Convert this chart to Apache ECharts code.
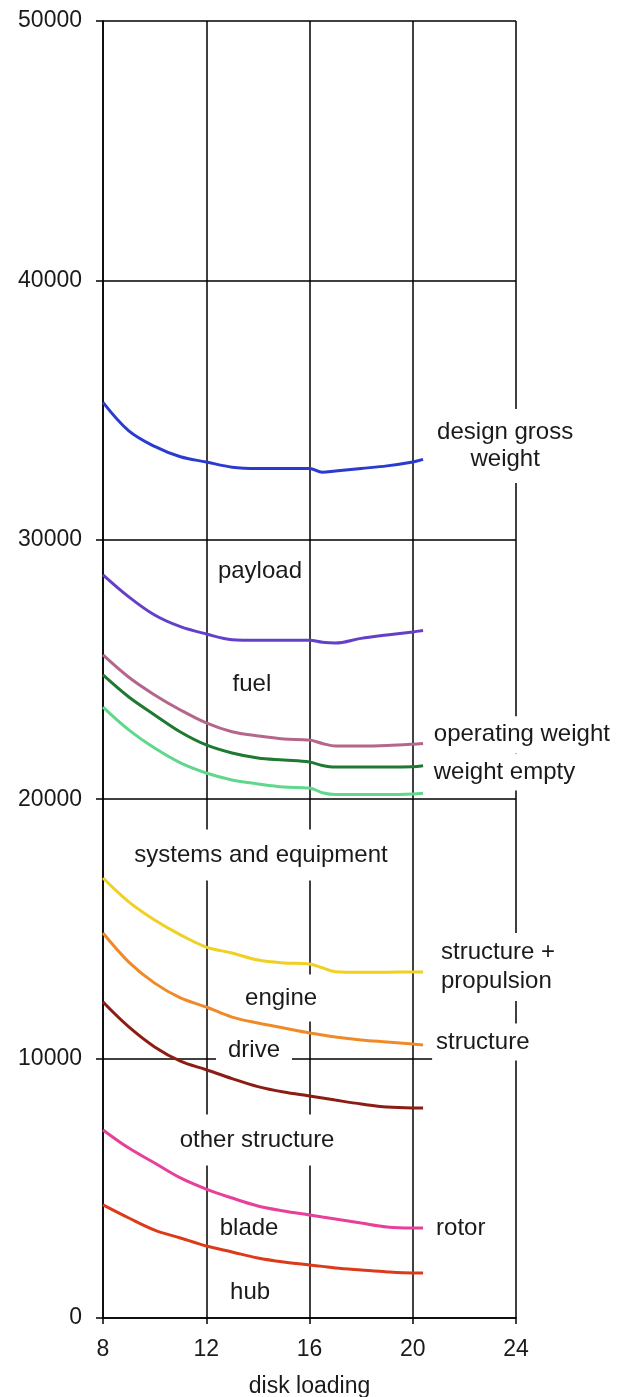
<!DOCTYPE html>
<html>
<head>
<meta charset="utf-8">
<script src="https://cdn.jsdelivr.net/npm/echarts@6/dist/echarts.min.js"></script>
<style>
html,body{margin:0;padding:0;background:#fff;}
#chart{width:626px;height:1397px;}
</style>
</head>
<body>
<div id="chart"></div>
<script>
// disk loading values (x)
var xs = [8, 9, 10, 11, 12, 13, 14, 15, 16, 16.5, 17, 18, 19, 20, 20.4];

var designGross  = [35300, 34200, 33600, 33200, 33000, 32800, 32750, 32750, 32750, 32600, 32650, 32750, 32850, 33000, 33100];
var payloadLine  = [28650, 27800, 27100, 26650, 26370, 26150, 26130, 26130, 26130, 26050, 26020, 26200, 26330, 26450, 26500];
var operating    = [25560, 24700, 24020, 23440, 22940, 22600, 22440, 22320, 22280, 22150, 22050, 22050, 22070, 22120, 22150];
var weightEmpty  = [24790, 23940, 23250, 22590, 22090, 21780, 21590, 21510, 21430, 21300, 21240, 21240, 21240, 21250, 21290];
var lightGreen   = [23550, 22670, 21970, 21400, 21010, 20740, 20590, 20470, 20430, 20250, 20180, 20180, 20180, 20200, 20230];
var structProp   = [16960, 16040, 15340, 14770, 14300, 14070, 13800, 13690, 13650, 13500, 13350, 13330, 13330, 13340, 13340];
var structure    = [14840, 13720, 12910, 12340, 11990, 11600, 11370, 11180, 10990, 10910, 10830, 10720, 10640, 10560, 10520];
var drive        = [12180, 11220, 10450, 9900, 9570, 9230, 8920, 8710, 8560, 8480, 8400, 8250, 8130, 8100, 8100];
var rotor        = [7250, 6550, 5975, 5400, 4970, 4625, 4320, 4125, 3970, 3890, 3815, 3660, 3510, 3470, 3470];
var hub          = [4360, 3855, 3390, 3085, 2775, 2545, 2315, 2160, 2045, 1990, 1930, 1850, 1775, 1735, 1735];

var seriesColors = ['#2b3bd0', '#6440c8', '#b4678a', '#1d7a30', '#5fd88c', '#f0d020', '#f08a28', '#8c1c14', '#e6409a', '#dd3a1a'];
var seriesData = [designGross, payloadLine, operating, weightEmpty, lightGreen, structProp, structure, drive, rotor, hub];

// annotation text and where it sits (data units)
var noteText  = ['design gross\nweight', 'payload', 'fuel', 'operating weight', 'weight empty', 'systems and equipment',
                 'structure +\npropulsion', 'engine', 'structure', 'drive', 'other structure', 'blade', 'rotor', 'hub'];
var noteX     = [23.58, 14.08, 13.77, 20.66, 20.66, 14.12, 20.94, 14.9, 20.75, 13.85, 13.97, 13.66, 20.75, 13.7];
var noteY     = [33620, 28800, 24440, 22480, 21050, 17850, 13530, 12340, 10640, 10330, 6860, 3470, 3470, 1000];
var noteAlign = ['center', 'center', 'center', 'left', 'left', 'center', 'left', 'center', 'left', 'center', 'center', 'center', 'left', 'center'];

var font = 'Liberation Sans, Arial, sans-serif';

function pair(arr){
    var out = [];
    for (var i = 0; i < xs.length; i++) out.push([xs[i], arr[i]]);
    return out;
}

// white box round each label, wider for some so grid lines break like the original
function notePad(i){
    if (noteText[i] == 'drive') return [3, 12];
    if (noteText[i] == 'systems and equipment' || noteText[i] == 'other structure') return [12, 4];
    if (noteText[i] == 'engine' || i == 0) return [10, 4];
    return [5, 4];
}

var series = [];
// labels first, under the lines
var notes = [];
for (var i = 0; i < noteText.length; i++) {
    notes.push({
        value: [noteX[i], noteY[i]],
        label: {
            formatter: noteText[i],
            align: noteAlign[i],
            padding: notePad(i),
            lineHeight: i == 6 ? 29 : 27
        }
    });
}
series.push({
    type: 'scatter',
    symbolSize: 0,
    silent: true,
    z: 1,
    itemStyle: {opacity: 1},
    data: notes,
    label: {
        show: true,
        position: 'inside',
        verticalAlign: 'middle',
        fontFamily: font,
        fontSize: 24,
        color: '#1a1a1a',
        backgroundColor: '#fff'
    }
});
for (var k = 0; k < seriesData.length; k++) {
    series.push({
        type: 'line',
        data: pair(seriesData[k]),
        smooth: 0.35,
        showSymbol: false,
        z: 3,
        lineStyle: {color: seriesColors[k], width: 3}
    });
}

var chart = echarts.init(document.getElementById('chart'));
chart.setOption({
    animation: false,
    backgroundColor: '#fff',
    grid: {left: 103, right: 110, top: 21, bottom: 79, outerBoundsMode: 'none'},
    xAxis: {
        type: 'value',
        min: 8, max: 24, interval: 4,
        name: 'disk loading',
        nameLocation: 'middle',
        nameGap: 57,
        nameTextStyle: {fontFamily: font, fontSize: 23, color: '#1a1a1a'},
        axisLine: {lineStyle: {color: '#000', width: 1.5}},
        axisTick: {show: true, length: 6, lineStyle: {color: '#000', width: 1.5}},
        axisLabel: {fontFamily: font, fontSize: 23, color: '#1a1a1a', margin: 20},
        splitLine: {show: true, lineStyle: {color: '#000', width: 1.5}}
    },
    yAxis: {
        type: 'value',
        min: 0, max: 50000, interval: 10000,
        axisLine: {show: true, lineStyle: {color: '#000', width: 1.5}},
        axisTick: {show: true, length: 7, lineStyle: {color: '#000', width: 1.5}},
        axisLabel: {fontFamily: font, fontSize: 23, color: '#1a1a1a', margin: 21,
            formatter: function (v) { return String(v); }},
        splitLine: {show: true, lineStyle: {color: '#000', width: 1.5}}
    },
    series: series
});
</script>
</body>
</html>
